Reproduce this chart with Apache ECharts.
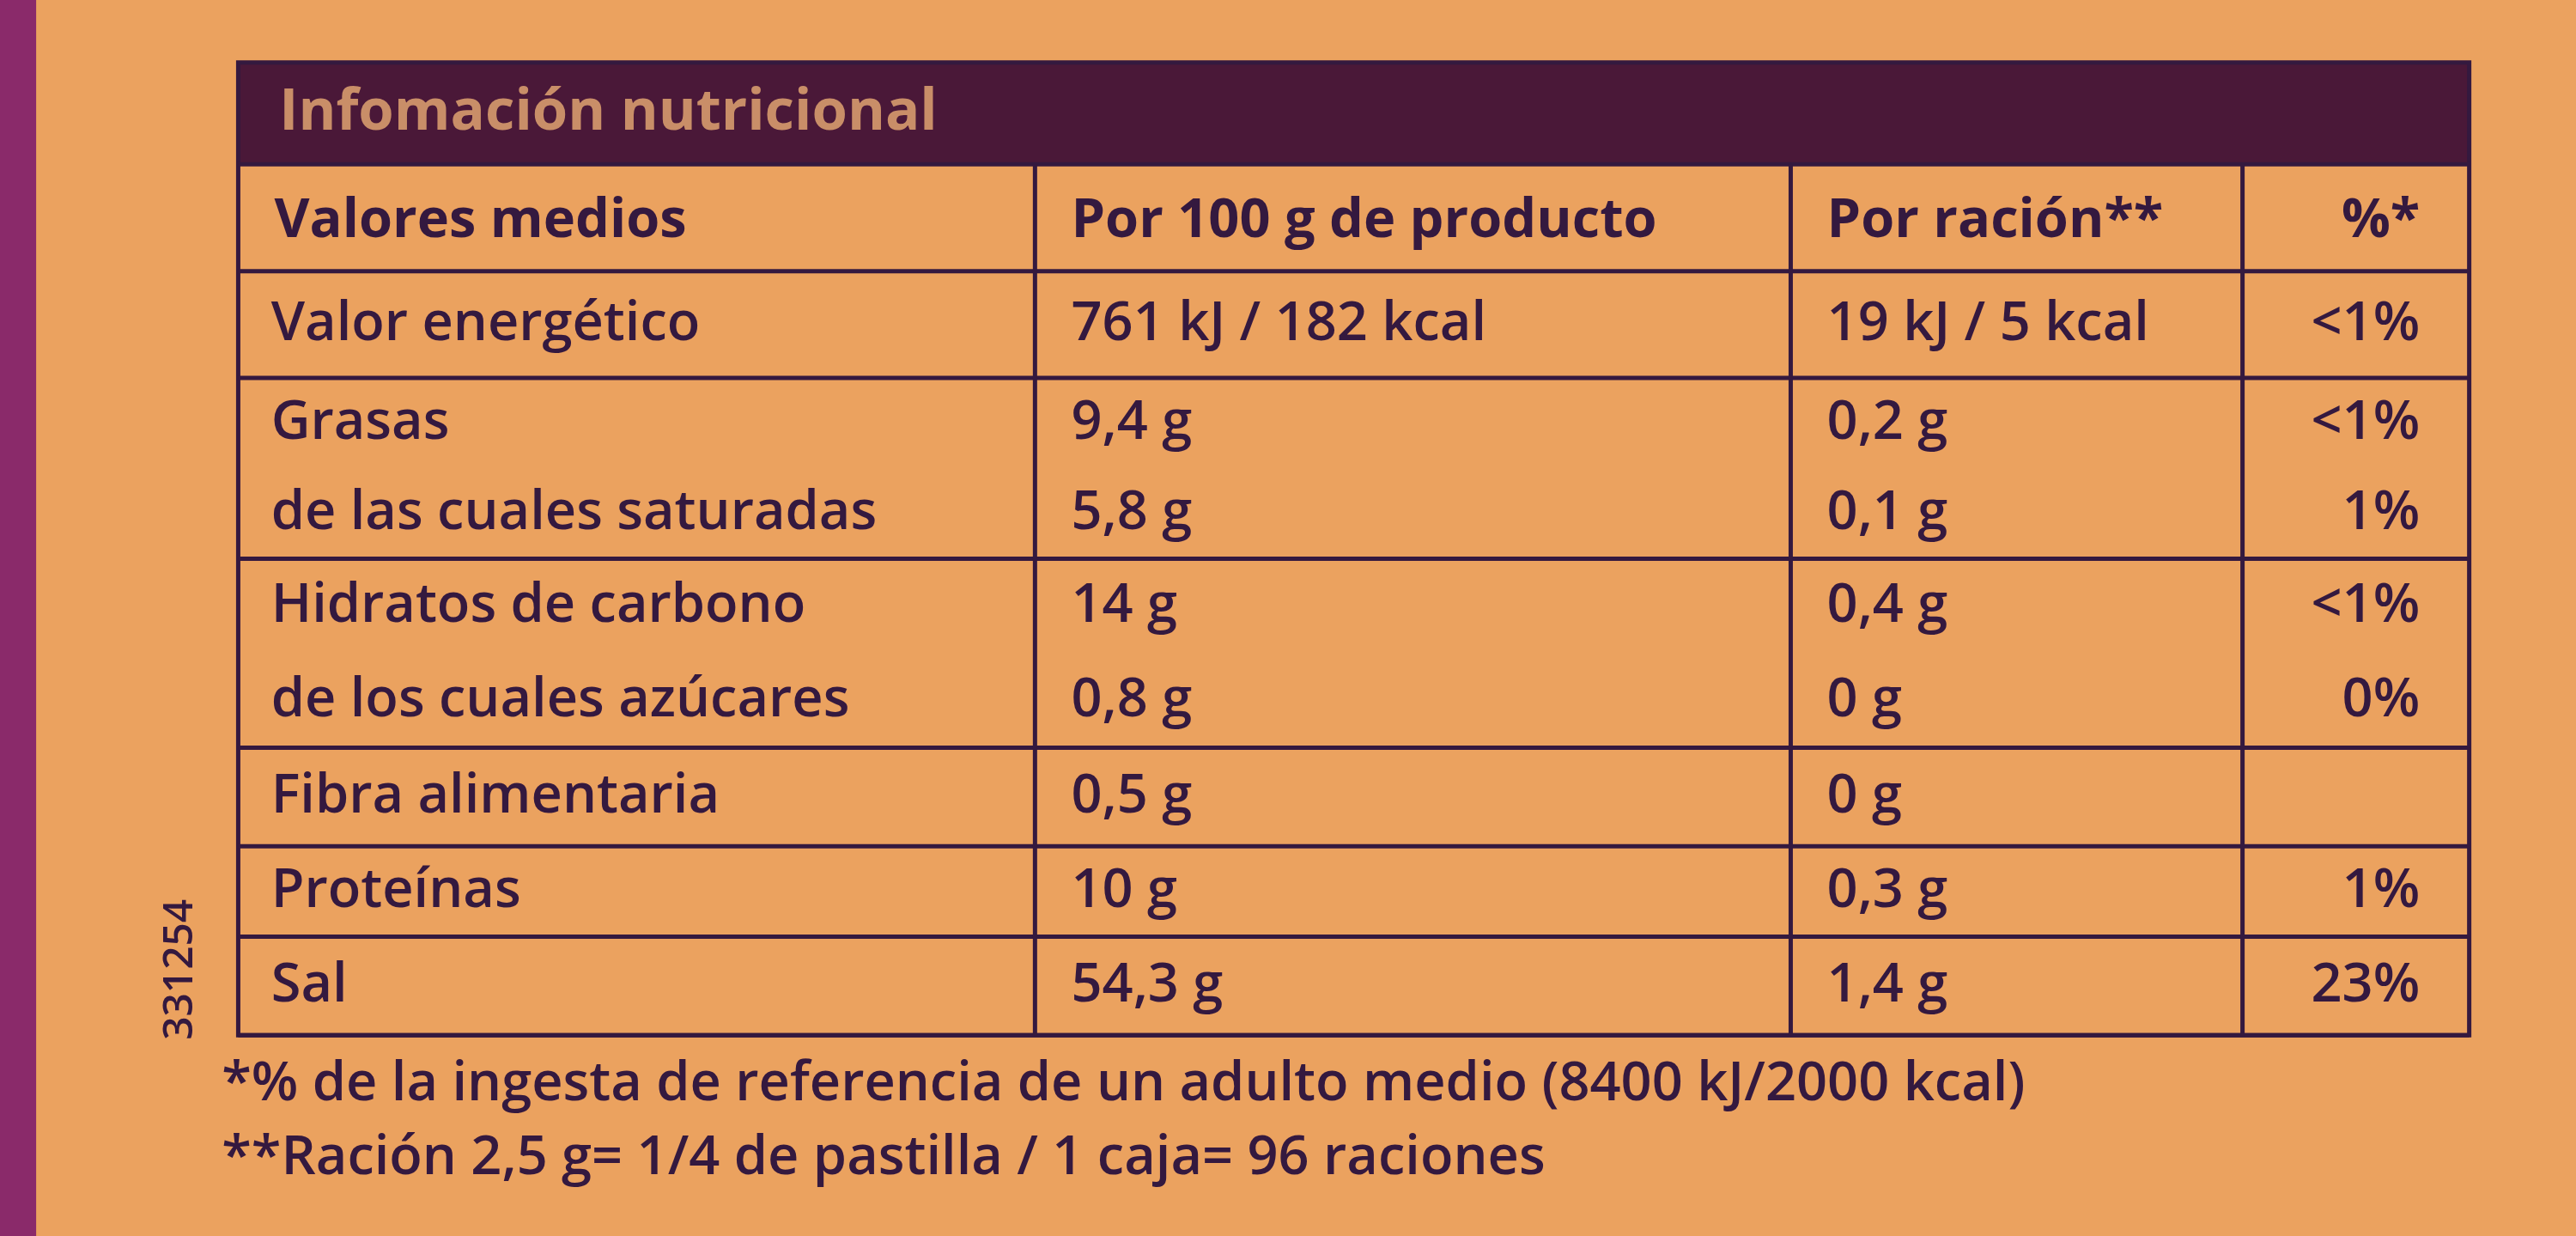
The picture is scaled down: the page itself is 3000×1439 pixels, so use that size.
<!DOCTYPE html><html><head><meta charset="utf-8"><script src="https://cdn.jsdelivr.net/npm/echarts@6/dist/echarts.min.js"></script>
<style>html,body{margin:0;padding:0;background:#eba25f}#c{width:3000px;height:1439px}</style></head><body><div id="c"></div><script>
const title='Infomación nutricional';
const headers=['Valores medios','Por 100 g de producto','Por ración**','%*'];
const nutrients=['Valor energético','Grasas','de las cuales saturadas','Hidratos de carbono','de los cuales azúcares','Fibra alimentaria','Proteínas','Sal'];
const per100=['761 kJ / 182 kcal','9,4 g','5,8 g','14 g','0,8 g','0,5 g','10 g','54,3 g'];
const perServing=['19 kJ / 5 kcal','0,2 g','0,1 g','0,4 g','0 g','0 g','0,3 g','1,4 g'];
const pct=['<1%','<1%','1%','<1%','0%','','1%','23%'];
const footnotes=['*% de la ingesta de referencia de un adulto medio (8400 kJ/2000 kcal)','**Ración 2,5 g= 1/4 de pastilla / 1 caja= 96 raciones'];
const code='331254';

const S=3000/1568;
const cols=[145,630,1090,1365,1503];
const rowY=[165,230,285,340,398,455,515,570,630];
const groupLines=[165,230,340,455,515,570,630];
const ink='#34193f', font='"Open Sans","Noto Sans",sans-serif';
const g=[];
g.push({type:'rect',shape:{x:0,y:0,width:22*S,height:1439},style:{fill:'#8a2a6a'}});
g.push({type:'rect',shape:{x:cols[0]*S,y:38*S,width:(cols[4]-cols[0])*S,height:62*S},style:{fill:'#4a1838'}});
g.push({type:'text',x:170*S,y:69*S,style:{text:title,font:'bold '+(35*S)+'px '+font,fill:'#c98e68',verticalAlign:'middle'}});
g.push({type:'rect',shape:{x:cols[0]*S,y:38*S,width:(cols[4]-cols[0])*S,height:(630-38)*S},style:{fill:'none',stroke:ink,lineWidth:5}});
groupLines.forEach(y=>g.push({type:'line',shape:{x1:cols[0]*S,y1:y*S,x2:cols[4]*S,y2:y*S},style:{stroke:ink,lineWidth:5}}));
g.push({type:'line',shape:{x1:cols[0]*S,y1:100*S,x2:cols[4]*S,y2:100*S},style:{stroke:ink,lineWidth:5}});
cols.slice(1,4).forEach(x=>g.push({type:'line',shape:{x1:x*S,y1:100*S,x2:x*S,y2:630*S},style:{stroke:ink,lineWidth:5}}));
const fs=33*S;
headers.forEach((h,i)=>{
  const right=i===3;
  g.push({type:'text',x:right?(cols[4]-30)*S:(cols[i]+22)*S,y:135*S,style:{text:h,font:'bold '+fs+'px '+font,fill:ink,align:right?'right':'left',verticalAlign:'middle'}});
});
nutrients.forEach((n,r)=>{
  const y=(rowY[r]+rowY[r+1])/2*S;
  const st=(t,x,al)=>g.push({type:'text',x:x*S,y:y,style:{text:t,font:'600 '+fs+'px '+font,fill:ink,align:al,verticalAlign:'middle'}});
  st(n,cols[0]+20,'left');st(per100[r],cols[1]+22,'left');st(perServing[r],cols[2]+22,'left');st(pct[r],cols[4]-30,'right');
});
footnotes.forEach((f,i)=>g.push({type:'text',x:135*S,y:(660+i*45)*S,style:{text:f,font:'600 '+fs+'px '+font,fill:ink,verticalAlign:'middle'}}));
g.push({type:'text',x:110*S,y:590*S,rotation:Math.PI/2,style:{text:code,font:'600 '+(25*S)+'px '+font,fill:ink,align:'center',verticalAlign:'middle'}});
const ch=echarts.init(document.getElementById('c'));
ch.setOption({backgroundColor:'#eba25f',graphic:g});
</script></body></html>
